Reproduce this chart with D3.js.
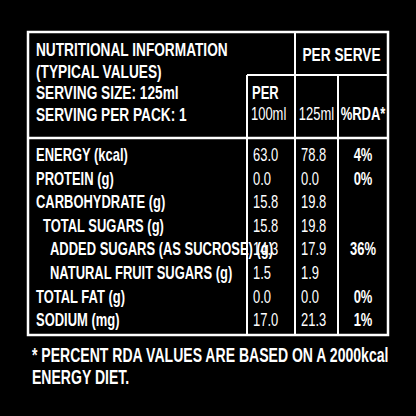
<!DOCTYPE html>
<html><head><meta charset="utf-8">
<script src="https://cdn.jsdelivr.net/npm/d3@7"></script>
<style>body{margin:0;background:#000}text{font-family:"Liberation Sans",Arial,sans-serif;font-weight:bold;fill:#fff}</style>
</head><body><div id="chart"></div>
<script>
var nutrients = ["ENERGY (kcal)", "PROTEIN (g)", "CARBOHYDRATE (g)", "TOTAL SUGARS (g)", "ADDED SUGARS (AS SUCROSE) (g)", "NATURAL FRUIT SUGARS (g)", "TOTAL FAT (g)", "SODIUM (mg)"];
var indent = [0, 0, 0, 1, 2, 2, 0, 0];
var per100 = ["63.0", "0.0", "15.8", "15.8", "14.3", "1.5", "0.0", "17.0"];
var perServe = ["78.8", "0.0", "19.8", "19.8", "17.9", "1.9", "0.0", "21.3"];
var rda = ["4%", "0%", "", "", "36%", "", "0%", "1%"];
var headLines = ["NUTRITIONAL INFORMATION", "(TYPICAL VALUES)", "SERVING SIZE: 125ml", "SERVING PER PACK: 1"];
var footLines = ["* PERCENT RDA VALUES ARE BASED ON A 2000kcal", "ENERGY DIET."];

var W = 416, H = 416;
var svg = d3.select("#chart").append("svg").attr("width", W).attr("height", H);
svg.append("rect").attr("width", W).attr("height", H).attr("fill", "#000");

var x0 = 28, x1 = 247, x2 = 295, x3 = 338, x4 = 388;
var yTop = 32, ySub = 75, yHdr = 138, yBot = 335;
var y = d3.scaleBand().domain(d3.range(nutrients.length)).range([142, 331]);
var SX = 0.72;

// condensed text: scale horizontally around the anchor point
function txt(parent, x, yy, s, size, anchor, normal) {
    var t = parent.append("text")
        .attr("transform", "translate(" + x + "," + yy + ") scale(" + SX + ",1)")
        .attr("font-size", size).attr("text-anchor", anchor || "start").text(s);
    if (normal) t.style("font-weight", "normal");
    return t;
}
function line(a, b, c, d, w) {
    svg.append("line").attr("x1", a).attr("y1", b).attr("x2", c).attr("y2", d)
        .attr("stroke", "#fff").attr("stroke-width", w || 2);
}
svg.append("rect").attr("x", x0).attr("y", yTop).attr("width", x4 - x0).attr("height", yBot - yTop)
    .attr("fill", "none").attr("stroke", "#fff").attr("stroke-width", 2.5);
line(x0, yHdr, x4, yHdr, 2.5);
line(x2, ySub, x4, ySub);
line(x1, ySub, x2, ySub);
line(x1, ySub, x1, yBot);
line(x2, yTop, x2, yBot);
line(x3, ySub, x3, yBot);

headLines.forEach(function(d, i) { txt(svg, 36, 56 + i * 21.5, d, 19); });
txt(svg, (x2 + x4) / 2, 61, "PER SERVE", 19, "middle");
txt(svg, 252, 99, "PER", 18);
txt(svg, 251, 120, "100ml", 18, "start", true);
txt(svg, (x2 + x3) / 2, 120, "125ml", 18, "middle", true);
txt(svg, (x3 + x4) / 2, 120, "%RDA*", 18, "middle");

nutrients.forEach(function(d, i) {
    var g = svg.append("g").attr("transform", "translate(0," + (y(i) + y.bandwidth() * 0.8) + ")");
    txt(g, 36 + indent[i] * 7, 0, d, 18);
    txt(g, 253, 0, per100[i], 18, "start", true);
    txt(g, 301, 0, perServe[i], 18, "start", true);
    txt(g, (x3 + x4) / 2, 0, rda[i], 18, "middle");
});

footLines.forEach(function(d, i) { txt(svg, 32, 362 + i * 22, d, 19.5); });
</script></body></html>
